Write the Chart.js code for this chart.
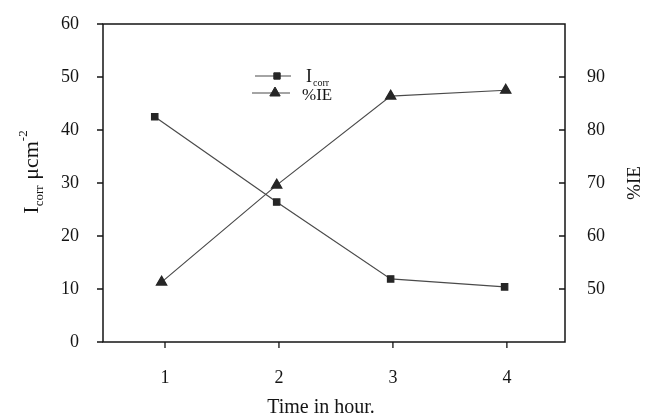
<!DOCTYPE html>
<html><head><meta charset="utf-8">
<script src="https://cdn.jsdelivr.net/npm/chart.js@4/dist/chart.umd.min.js"></script>
<style>html,body{margin:0;padding:0;background:#fff}#wrap{width:651px;height:419px}</style>
</head><body><div id="wrap"><canvas id="c" width="651" height="419"></canvas></div>
<script>
// ---- data ----
const timeTicks = [1, 2, 3, 4];
const icorrX = [0.91, 1.98, 2.98, 3.98];
const icorrValues = [42.5, 26.4, 11.9, 10.4];
const ieX = [0.97, 1.98, 2.98, 3.99];
const ieValues = [51.3, 69.6, 86.4, 87.5];
const leftTicks = [0, 10, 20, 30, 40, 50, 60];
const rightTicks = [50, 60, 70, 80, 90];
const xTitle = 'Time in hour.';
const yTitleMain = 'I';
const yTitleSub = 'corr';
const yTitleRest = ' \u03bccm';
const yTitleSup = '-2';
const y2Title = '%IE';
const legendIcorrMain = 'I';
const legendIcorrSub = 'corr';
const legendIe = '%IE';

const SERIF = '"Liberation Serif", "DejaVu Serif", serif';
const INK = '#141414';

const decor = {
  id: 'decor',
  afterDraw(chart) {
    const ctx = chart.ctx;
    const a = chart.chartArea;
    const xs = chart.scales.x, yl = chart.scales.y, yr = chart.scales.y2;
    ctx.save();
    // frame
    ctx.strokeStyle = INK; ctx.lineWidth = 1.5;
    ctx.strokeRect(a.left, a.top, a.right - a.left, a.bottom - a.top);
    // ticks
    ctx.lineWidth = 1.3;
    ctx.beginPath();
    leftTicks.forEach(v => { const y = yl.getPixelForValue(v); ctx.moveTo(a.left - 6, y); ctx.lineTo(a.left, y); });
    rightTicks.forEach(v => { const y = yr.getPixelForValue(v); ctx.moveTo(a.right - 6, y); ctx.lineTo(a.right, y); });
    timeTicks.forEach(v => { const x = xs.getPixelForValue(v); ctx.moveTo(x, a.bottom); ctx.lineTo(x, a.bottom + 6); });
    ctx.stroke();

    ctx.fillStyle = INK;
    ctx.textBaseline = 'alphabetic';
    // x title
    ctx.font = '20px ' + SERIF; ctx.textAlign = 'center';
    ctx.fillText(xTitle, 321, 413);

    // left title (rotated)
    const big = '22px ' + SERIF, small = '13px ' + SERIF;
    ctx.font = big; const w1 = ctx.measureText(yTitleMain).width;
    ctx.font = small; const w2 = ctx.measureText(yTitleSub).width;
    ctx.font = big; const w3 = ctx.measureText(yTitleRest).width;
    ctx.font = small; const w4 = ctx.measureText(yTitleSup).width;
    const tot = w1 + w2 + w3 + w4;
    ctx.save();
    ctx.translate(38, 172); ctx.rotate(-Math.PI / 2);
    ctx.textAlign = 'left';
    let p = -tot / 2;
    ctx.font = big; ctx.fillText(yTitleMain, p, 0); p += w1;
    ctx.font = small; ctx.fillText(yTitleSub, p, 5); p += w2;
    ctx.font = big; ctx.fillText(yTitleRest, p, 0); p += w3;
    ctx.font = small; ctx.fillText(yTitleSup, p, -11);
    ctx.restore();

    // right title (rotated)
    ctx.save();
    ctx.translate(640, 183); ctx.rotate(-Math.PI / 2);
    ctx.font = '19px ' + SERIF; ctx.textAlign = 'center';
    ctx.fillText(y2Title, 0, 0);
    ctx.restore();

    // legend
    const ds = chart.data.datasets;
    const rows = [
      { y: 76, ds: ds[0], x1: 255, x2: 291, mx: 277 },
      { y: 93, ds: ds[1], x1: 252, x2: 290, mx: 275 }
    ];
    rows.forEach(r => {
      ctx.strokeStyle = r.ds.borderColor; ctx.lineWidth = r.ds.borderWidth;
      ctx.beginPath(); ctx.moveTo(r.x1, r.y); ctx.lineTo(r.x2, r.y); ctx.stroke();
      ctx.fillStyle = r.ds.pointBackgroundColor; ctx.strokeStyle = r.ds.pointBorderColor; ctx.lineWidth = 1;
      Chart.helpers.drawPoint(ctx, { pointStyle: r.ds.pointStyle, radius: r.ds.pointRadius, rotation: 0, borderWidth: 1 }, r.mx, r.y);
    });
    ctx.fillStyle = INK; ctx.textAlign = 'left';
    ctx.font = '18px ' + SERIF; ctx.fillText(legendIcorrMain, 306, 82);
    const wi = ctx.measureText(legendIcorrMain).width;
    ctx.font = '10px ' + SERIF; ctx.fillText(legendIcorrSub, 306 + wi + 1, 86);
    ctx.font = '17px ' + SERIF; ctx.fillText(legendIe, 302, 100);
    ctx.restore();
  }
};

const vFit = w => s => { s.width = w; s.paddingTop = 0; s.paddingBottom = 0; };

new Chart(document.getElementById('c'), {
  type: 'line',
  data: {
    datasets: [
      {
        label: 'Icorr', yAxisID: 'y',
        data: icorrX.map((x, i) => ({ x, y: icorrValues[i] })),
        borderColor: '#4a4a4a', borderWidth: 1.2,
        pointStyle: 'rect', pointRadius: 4.5,
        pointBackgroundColor: '#262626', pointBorderColor: '#262626',
        tension: 0, clip: false
      },
      {
        label: '%IE', yAxisID: 'y2',
        data: ieX.map((x, i) => ({ x, y: ieValues[i] })),
        borderColor: '#4a4a4a', borderWidth: 1.2,
        pointStyle: 'triangle', pointRadius: 6,
        pointBackgroundColor: '#262626', pointBorderColor: '#262626',
        tension: 0, clip: false
      }
    ]
  },
  options: {
    responsive: false, animation: false, devicePixelRatio: 1,
    layout: { padding: { top: 24, left: 0, right: 0, bottom: 0 } },
    plugins: { legend: { display: false }, tooltip: { enabled: false } },
    scales: {
      x: {
        type: 'linear', min: 0.456, max: 4.51,
        afterBuildTicks: s => { s.ticks = timeTicks.map(v => ({ value: v })); },
        afterFit: s => { s.height = 77; s.paddingLeft = 0; s.paddingRight = 0; },
        grid: { display: false, drawTicks: false }, border: { display: false },
        ticks: { padding: 25, color: INK, font: { family: SERIF, size: 18 }, maxRotation: 0 }
      },
      y: {
        position: 'left', min: 0, max: 60,
        afterBuildTicks: s => { s.ticks = leftTicks.map(v => ({ value: v })); },
        afterFit: vFit(103),
        grid: { display: false, drawTicks: false }, border: { display: false },
        ticks: { padding: 24, color: INK, font: { family: SERIF, size: 18 } }
      },
      y2: {
        position: 'right', min: 40, max: 100,
        afterBuildTicks: s => { s.ticks = rightTicks.map(v => ({ value: v })); },
        afterFit: vFit(86),
        grid: { display: false, drawTicks: false }, border: { display: false },
        ticks: { padding: 22, color: INK, font: { family: SERIF, size: 18 } }
      }
    }
  },
  plugins: [decor]
});
</script>
</body></html>
